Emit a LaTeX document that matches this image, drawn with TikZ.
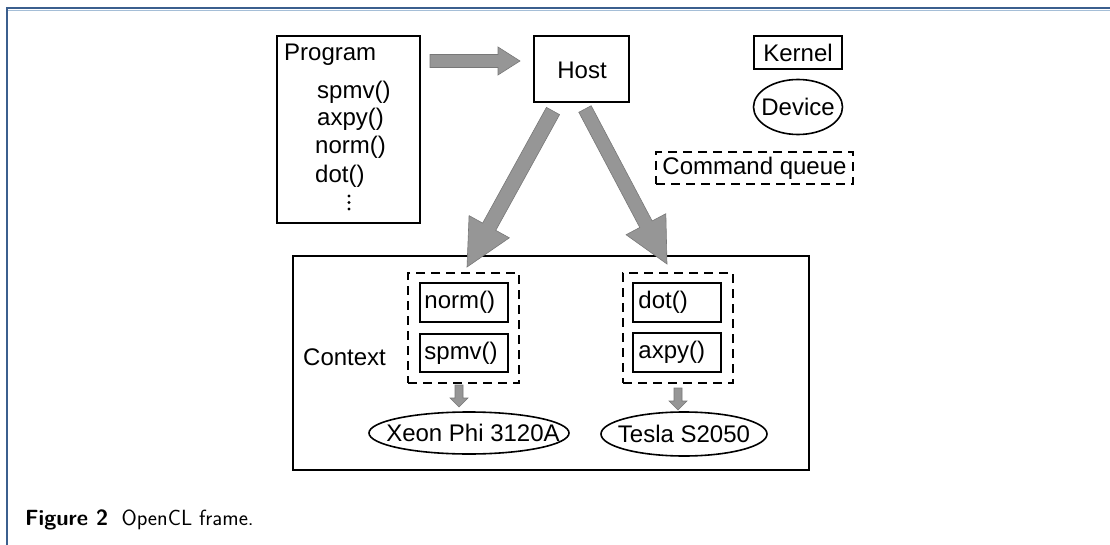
\documentclass[tikz,border=0pt]{standalone}
\usepackage{fontspec}
\setmainfont{Liberation Sans}
\usetikzlibrary{calc,shapes.geometric}
\definecolor{framedark}{RGB}{59,95,142}
\definecolor{framelight}{RGB}{165,190,215}
\definecolor{arrowfill}{RGB}{150,150,150}
\definecolor{arrowedge}{RGB}{120,120,120}
\newcommand\dgfont{\fontsize{24}{28}\selectfont}
\newcommand\fatarrow[5]{%
  \path ($(#2)!#5!(#1)$) coordinate (fahead);
  \draw[fatarr] ($(#1)!#3!90:(#2)$) -- ($(fahead)!#3!90:(#2)$) -- ($(fahead)!#4!90:(#2)$) -- (#2)
    -- ($(fahead)!#4!-90:(#2)$) -- ($(fahead)!#3!-90:(#2)$) -- ($(#1)!#3!-90:(#2)$) -- cycle;}
\begin{document}
\begin{tikzpicture}[x=1pt,y=-1pt,
  every node/.style={font=\dgfont, inner sep=0pt},
  dbox/.style={draw, line width=1.6pt, dash pattern=on 9pt off 6pt},
  sbox/.style={draw, line width=1.6pt},
  oval/.style={draw, ellipse, line width=1.6pt},
  txt/.style={anchor=base west},
  fatarr/.style={fill=arrowfill, draw=arrowedge, line width=0.6pt, line join=miter}]
\useasboundingbox (0,0) rectangle (1110,545);
% frame
\draw[framedark, line width=2pt] (7,545) -- (7,8) -- (1110,8);
\draw[framelight, line width=1pt] (8,10.5) -- (1110,10.5);
% Program
\node[sbox, minimum width=143pt, minimum height=187pt] (program) at (348.5,129.5) {};
\node[txt] (ptitle) at (284,61) {Program};
\node[txt] (p1) at (317,99) {spmv()};
\node[txt] (p2) at (317,126) {axpy()};
\node[txt] (p3) at (315,154) {norm()};
\node[txt] (p4) at (315,183) {dot()};
\foreach \yy in {196,202.5,209} \fill (349,\yy) circle (1.6pt);
% Host
\node[sbox, minimum width=95pt, minimum height=66pt] (host) at (581.5,69) {};
\node (hosttxt) at (582,70) {Host};
% legend
\node[sbox, minimum width=88pt, minimum height=33pt] (kernel) at (798,52.5) {};
\node at (kernel.center) {Kernel};
\node[oval, minimum width=89pt, minimum height=55pt] (device) at (798,107) {};
\node at (device.center) {Device};
\node[dbox, minimum width=197pt, minimum height=32pt] (cq) at (754.5,168) {};
\node at (cq.center) {Command queue};
% Context
\node[sbox, minimum width=516pt, minimum height=214pt] (context) at (551,363) {};
\node[anchor=west] (ctxtxt) at (303,357) {Context};
% left queue
\node[dbox, minimum width=111pt, minimum height=110pt] (qL) at (463.5,328) {};
\node[sbox, minimum width=88pt, minimum height=39pt] (norm) at (464,302.5) {};
\node[anchor=west] at ($(norm.west)+(5,0)$) {norm()};
\node[sbox, minimum width=88pt, minimum height=38pt] (spmv) at (464,353) {};
\node[anchor=west] at ($(spmv.west)+(5,0)$) {spmv()};
% right queue
\node[dbox, minimum width=110pt, minimum height=110pt] (qR) at (678,328) {};
\node[sbox, minimum width=88pt, minimum height=39pt] (dot) at (677,302.5) {};
\node[anchor=west] at ($(dot.west)+(6,0)$) {dot()};
\node[sbox, minimum width=88pt, minimum height=39pt] (axpy) at (677,352.5) {};
\node[anchor=west] at ($(axpy.west)+(6,0)$) {axpy()};
% devices
\node[oval, minimum width=200pt, minimum height=42pt] (xeon) at (469,433) {};
\node at (473,433) {Xeon Phi 3120A};
\node[oval, minimum width=166pt, minimum height=44pt] (tesla) at (684,434) {};
\node at (684,434) {Tesla S2050};
% arrows
\coordinate (pa1) at (430,61);
\coordinate (pa2) at (520,61);
\fatarrow{pa1}{pa2}{6.5pt}{14pt}{22pt}
\coordinate (la1) at (553,111);
\coordinate (la2) at (467,267);
\fatarrow{la1}{la2}{7.5pt}{23pt}{46pt}
\coordinate (ra1) at (585,109);
\coordinate (ra2) at (667,264);
\fatarrow{ra1}{ra2}{7pt}{22.5pt}{45pt}
\coordinate (sl1) at (459,385);
\coordinate (sl2) at (459,407);
\fatarrow{sl1}{sl2}{4pt}{9pt}{9pt}
\coordinate (sr1) at (678,388);
\coordinate (sr2) at (678,410);
\fatarrow{sr1}{sr2}{4pt}{9pt}{9pt}
% caption
\node[anchor=base west, font=\sffamily\fontsize{22}{26}\selectfont] (caption) at (25,525) {\textbf{Figure 2}\hspace{0.6em}OpenCL frame.};
\end{tikzpicture}
\end{document}
